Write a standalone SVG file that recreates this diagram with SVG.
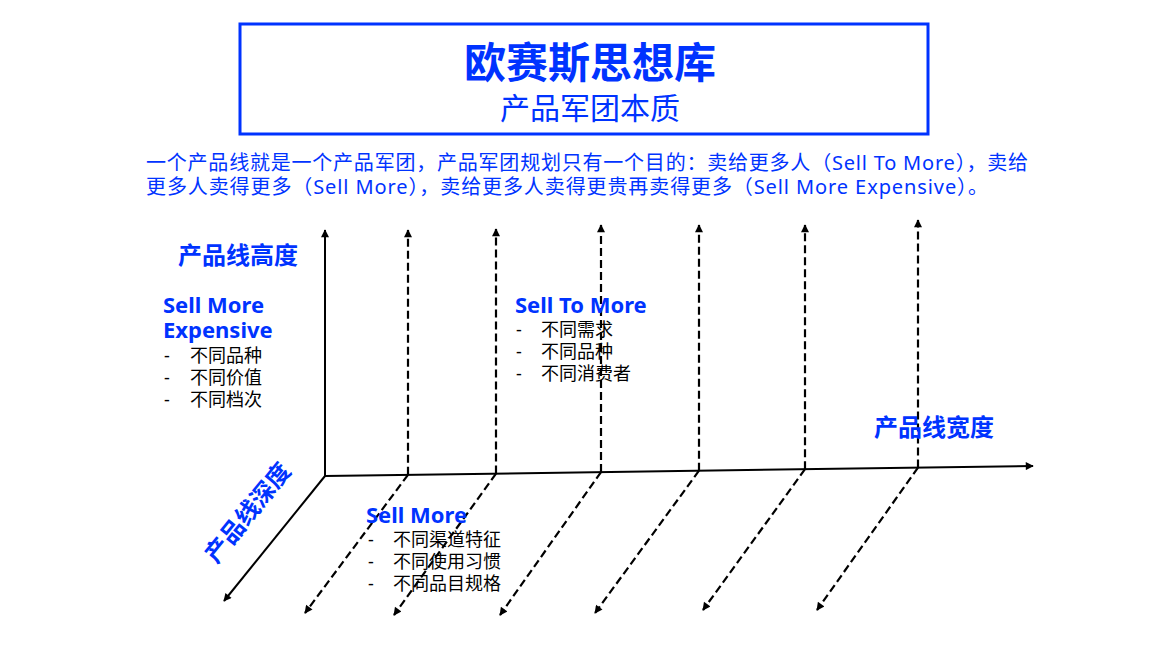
<svg xmlns="http://www.w3.org/2000/svg" width="1154" height="648" viewBox="0 0 1154 648">
<style>
text{font-family:"Noto Sans","Noto Sans CJK SC",sans-serif}
.blue{fill:#0033FF}
.b{font-weight:bold}
.li{font-size:18px;fill:#000}
.axis{stroke:#000;stroke-width:2;fill:none}
.dash{stroke:#000;stroke-width:2.2;fill:none;stroke-dasharray:8 4}
</style>
<defs>
<marker id="ah" viewBox="0 0 10 10" refX="9" refY="5" markerWidth="10" markerHeight="8" markerUnits="userSpaceOnUse" orient="auto">
<path d="M0,0L10,5L0,10z" fill="#000"/>
</marker>
</defs>
<rect width="1154" height="648" fill="#fff"/>
<g id="title">
<rect x="240" y="24" width="688" height="110" fill="none" stroke="#0033FF" stroke-width="3"/>
<text x="590" y="78" text-anchor="middle" class="blue b" font-size="42">欧赛斯思想库</text>
<text x="590" y="119" text-anchor="middle" class="blue" font-size="30">产品军团本质</text>
</g>
<g id="intro" class="blue" font-size="20">
<text x="146" y="170" textLength="882" lengthAdjust="spacing">一个产品线就是一个产品军团，产品军团规划只有一个目的：卖给更多人（Sell To More），卖给</text>
<text x="146" y="194" textLength="842" lengthAdjust="spacing">更多人卖得更多（Sell More），卖给更多人卖得更贵再卖得更多（Sell More Expensive）。</text>
</g>
<g id="connectors">
<path class="axis" d="M325,476L325,230" marker-end="url(#ah)"/>
<path class="axis" d="M325,476L1033,466" marker-end="url(#ah)"/>
<path class="axis" d="M325,476L224,601" marker-end="url(#ah)"/>
<path class="dash" d="M408,474.8L408,230" marker-end="url(#ah)"/>
<path class="dash" d="M496,473.6L496,229" marker-end="url(#ah)"/>
<path class="dash" d="M601,472.1L601,225" marker-end="url(#ah)"/>
<path class="dash" d="M699,470.7L699,225" marker-end="url(#ah)"/>
<path class="dash" d="M805,469.2L805,225" marker-end="url(#ah)"/>
<path class="dash" d="M918,467.6L918,220" marker-end="url(#ah)"/>
<path class="dash" d="M408,474.8L305,613" marker-end="url(#ah)"/>
<path class="dash" d="M496,473.6L394,615" marker-end="url(#ah)"/>
<path class="dash" d="M601,472.1L500,615" marker-end="url(#ah)"/>
<path class="dash" d="M699,470.7L595,613" marker-end="url(#ah)"/>
<path class="dash" d="M805,469.2L703,610" marker-end="url(#ah)"/>
<path class="dash" d="M918,467.6L817,610" marker-end="url(#ah)"/>
</g>
<g id="label-height"><text x="178" y="264" class="blue b" font-size="24">产品线高度</text></g>
<g id="label-width"><text x="874" y="436" class="blue b" font-size="24">产品线宽度</text></g>
<g id="label-depth"><text x="0" y="0" transform="translate(247,512) rotate(-51)" text-anchor="middle" dominant-baseline="central" class="blue b" font-size="24">产品线深度</text></g>
<g id="sell-more-expensive">
<text x="163" y="313" class="blue b" font-size="22">Sell More</text>
<text x="163" y="338" class="blue b" font-size="22">Expensive</text>
<text class="li" y="362"><tspan x="164">-</tspan><tspan x="190">不同品种</tspan></text>
<text class="li" y="384"><tspan x="164">-</tspan><tspan x="190">不同价值</tspan></text>
<text class="li" y="406"><tspan x="164">-</tspan><tspan x="190">不同档次</tspan></text>
</g>
<g id="sell-to-more">
<text x="515" y="313" class="blue b" font-size="22">Sell To More</text>
<text class="li" y="336"><tspan x="516">-</tspan><tspan x="541">不同需求</tspan></text>
<text class="li" y="358"><tspan x="516">-</tspan><tspan x="541">不同品种</tspan></text>
<text class="li" y="380"><tspan x="516">-</tspan><tspan x="541">不同消费者</tspan></text>
</g>
<g id="sell-more">
<text x="366" y="523" class="blue b" font-size="22">Sell More</text>
<text class="li" y="546"><tspan x="368">-</tspan><tspan x="393">不同渠道特征</tspan></text>
<text class="li" y="568"><tspan x="368">-</tspan><tspan x="393">不同使用习惯</tspan></text>
<text class="li" y="590"><tspan x="368">-</tspan><tspan x="393">不同品目规格</tspan></text>
</g>
</svg>
